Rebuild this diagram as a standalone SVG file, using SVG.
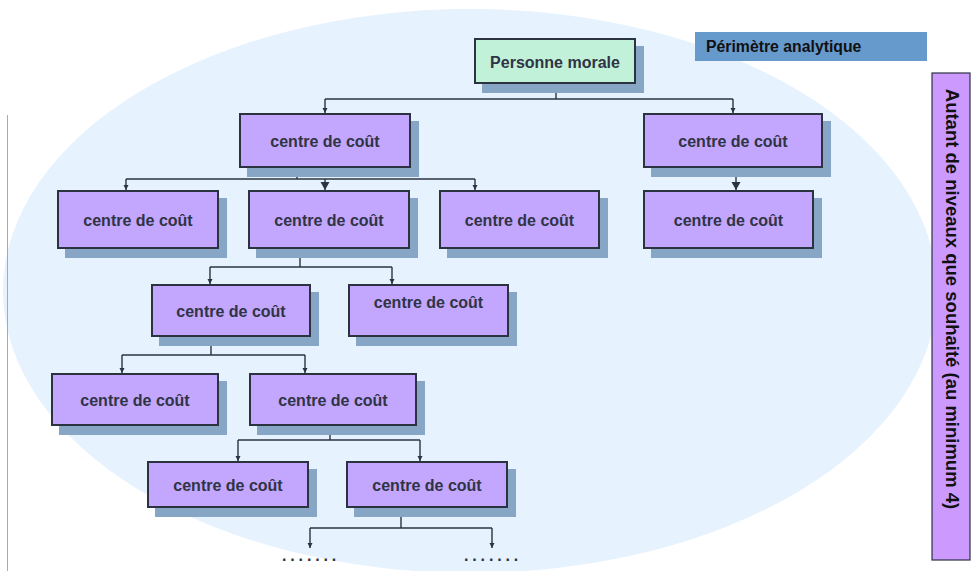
<svg xmlns="http://www.w3.org/2000/svg" width="972" height="571" viewBox="0 0 972 571">
  <style>
    .shadow { fill: #87A5C4; }
    .box { fill: #C3A6FE; stroke: #2B3340; stroke-width: 2; }
    .root { fill: #C2F1DA; stroke: #2B3340; stroke-width: 2; }
    .lbl { font-family: "Liberation Sans", Arial, sans-serif; font-weight: bold; font-size: 16px; fill: #2F3444; text-anchor: middle; }
    .wire { fill: none; stroke: #2B3340; stroke-width: 1.4; }
    .dots { font-family: "Liberation Sans", Arial, sans-serif; font-weight: bold; font-size: 16px; fill: #2B3340; letter-spacing: 3.85px; }
  </style>
  <defs>
    <marker id="tipS" markerUnits="userSpaceOnUse" markerWidth="6" markerHeight="6" refX="5" refY="3" orient="auto">
      <path d="M0,0.5 L5,3 L0,5.5 Z" fill="#2B3340"/>
    </marker>
    <marker id="tipL" markerUnits="userSpaceOnUse" markerWidth="10" markerHeight="10" refX="8" refY="4.5" orient="auto">
      <path d="M0,0 L8,4.5 L0,9 Z" fill="#2B3340"/>
    </marker>
  </defs>

  <rect width="972" height="571" fill="#FFFFFF"/>

  <!-- analytic perimeter -->
  <ellipse cx="470" cy="291" rx="467" ry="282" fill="#E6F2FE"/>
  <line x1="7.5" y1="115" x2="7.5" y2="571" stroke="#AAAAAA" stroke-width="1"/>

  <g id="perimetre">
    <rect x="695" y="32" width="232" height="29" fill="#6699CC"/>
    <text x="706" y="52" font-family="Liberation Sans, Arial, sans-serif" font-weight="bold" font-size="15.8" fill="#111111">Périmètre analytique</text>
  </g>

  <g id="niveaux">
    <rect x="932" y="73" width="38" height="487" fill="#CC99FF" stroke="#2B3340" stroke-width="1.2"/>
    <text transform="translate(946,299) rotate(90)" text-anchor="middle" font-family="Liberation Sans, Arial, sans-serif" font-weight="bold" font-size="18.5" fill="#111111">Autant de niveaux que souhaité (au minimum 4)</text>
  </g>

  <!-- connectors -->
  <g id="connectors">
    <path class="wire" d="M556,84 V99"/>
    <path class="wire" d="M325,99 H733"/>
    <path class="wire" d="M325,99 V113" marker-end="url(#tipS)"/>
    <path class="wire" d="M733,99 V113" marker-end="url(#tipS)"/>

    <path class="wire" d="M297,168 V179"/>
    <path class="wire" d="M126,179 H475"/>
    <path class="wire" d="M126,179 V190" marker-end="url(#tipS)"/>
    <path class="wire" d="M325,179 V190" marker-end="url(#tipL)"/>
    <path class="wire" d="M475,179 V190" marker-end="url(#tipS)"/>

    <path class="wire" d="M736,168 V190" marker-end="url(#tipL)"/>

    <path class="wire" d="M300,249 V267"/>
    <path class="wire" d="M210,267 H392"/>
    <path class="wire" d="M210,267 V284" marker-end="url(#tipS)"/>
    <path class="wire" d="M392,267 V284" marker-end="url(#tipS)"/>

    <path class="wire" d="M211,337 V355"/>
    <path class="wire" d="M122,355 H305"/>
    <path class="wire" d="M122,355 V373" marker-end="url(#tipS)"/>
    <path class="wire" d="M305,355 V373" marker-end="url(#tipS)"/>

    <path class="wire" d="M330,426 V440"/>
    <path class="wire" d="M238,440 H420"/>
    <path class="wire" d="M238,440 V461" marker-end="url(#tipS)"/>
    <path class="wire" d="M420,440 V461" marker-end="url(#tipS)"/>

    <path class="wire" d="M401,508 V528"/>
    <path class="wire" d="M310,528 H492"/>
    <path class="wire" d="M310,528 V548" marker-end="url(#tipS)"/>
    <path class="wire" d="M492,528 V548" marker-end="url(#tipS)"/>
  </g>

  <g id="personne-morale">
    <rect class="shadow" x="482" y="46" width="162" height="47"/>
    <rect class="root" x="475" y="39" width="160" height="44"/>
    <text class="lbl" x="555" y="67.5">Personne morale</text>
  </g>

  <g id="cc-1a">
    <rect class="shadow" x="247" y="121" width="172" height="56"/>
    <rect class="box" x="240" y="114" width="170" height="53"/>
    <text class="lbl" x="325" y="147">centre de coût</text>
  </g>
  <g id="cc-1b">
    <rect class="shadow" x="651" y="121" width="180" height="56"/>
    <rect class="box" x="644" y="114" width="178" height="53"/>
    <text class="lbl" x="733" y="147">centre de coût</text>
  </g>

  <g id="cc-2a">
    <rect class="shadow" x="65" y="198" width="162" height="60"/>
    <rect class="box" x="58" y="191" width="160" height="57"/>
    <text class="lbl" x="138" y="226">centre de coût</text>
  </g>
  <g id="cc-2b">
    <rect class="shadow" x="256" y="198" width="162" height="60"/>
    <rect class="box" x="249" y="191" width="160" height="57"/>
    <text class="lbl" x="329" y="226">centre de coût</text>
  </g>
  <g id="cc-2c">
    <rect class="shadow" x="447" y="198" width="161" height="60"/>
    <rect class="box" x="440" y="191" width="159" height="57"/>
    <text class="lbl" x="519.5" y="226">centre de coût</text>
  </g>
  <g id="cc-2d">
    <rect class="shadow" x="651" y="198" width="171" height="60"/>
    <rect class="box" x="644" y="191" width="169" height="57"/>
    <text class="lbl" x="728.5" y="226">centre de coût</text>
  </g>

  <g id="cc-3a">
    <rect class="shadow" x="159" y="292" width="160" height="54"/>
    <rect class="box" x="152" y="285" width="158" height="51"/>
    <text class="lbl" x="231" y="317">centre de coût</text>
  </g>
  <g id="cc-3b">
    <rect class="shadow" x="356" y="292" width="161" height="54"/>
    <rect class="box" x="349" y="285" width="159" height="51"/>
    <text class="lbl" x="428.5" y="308">centre de coût</text>
  </g>

  <g id="cc-4a">
    <rect class="shadow" x="59" y="381" width="168" height="54"/>
    <rect class="box" x="52" y="374" width="166" height="51"/>
    <text class="lbl" x="135" y="406">centre de coût</text>
  </g>
  <g id="cc-4b">
    <rect class="shadow" x="257" y="381" width="168" height="54"/>
    <rect class="box" x="250" y="374" width="166" height="51"/>
    <text class="lbl" x="333" y="406">centre de coût</text>
  </g>

  <g id="cc-5a">
    <rect class="shadow" x="155" y="469" width="162" height="48"/>
    <rect class="box" x="148" y="462" width="160" height="45"/>
    <text class="lbl" x="228" y="491">centre de coût</text>
  </g>
  <g id="cc-5b">
    <rect class="shadow" x="354" y="469" width="162" height="48"/>
    <rect class="box" x="347" y="462" width="160" height="45"/>
    <text class="lbl" x="427" y="491">centre de coût</text>
  </g>

  <!-- further levels -->
  <g id="suite">
    <text class="dots" x="282" y="561">.......</text>
    <text class="dots" x="464" y="561">.......</text>
  </g>
</svg>
